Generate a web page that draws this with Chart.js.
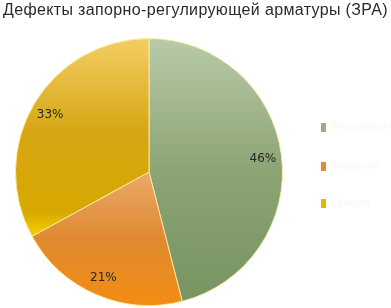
<!DOCTYPE html>
<html>
<head>
<meta charset="utf-8">
<script src="https://cdn.jsdelivr.net/npm/chart.js@4"></script>
<style>
  html, body { margin: 0; padding: 0; background: #fff; }
  #wrap { position: relative; width: 391px; height: 308px; overflow: hidden; }
  #title { position: absolute; left: 3px; top: 0; white-space: nowrap; font-family: "Liberation Sans", Arial, sans-serif; font-size: 16px; line-height: 19px; color: #2a2a2a; }
  #legend { position: absolute; left: 321px; top: 0; font-family: "Liberation Sans", Arial, sans-serif; font-size: 11px; color: #f7f7f7; }
  #legend div { position: absolute; white-space: nowrap; }
  #legend span { display: inline-block; width: 5px; height: 9px; margin-right: 6px; vertical-align: middle; }
</style>
</head>
<body>
<div id="wrap">
  <canvas id="pieChart" width="391" height="308"></canvas>
  <div id="title"></div>
  <div id="legend"></div>
</div>
<script>
const chartTitle = "Дефекты запорно-регулирующей арматуры (ЗРА)";
const categories = ["Негерметичность", "Коррозия", "Прочие"];
const values = [46, 21, 33];

// цвета (верх -> низ градиента)
const gradStops = [
  [[0, "#b8caa9"], [0.5, "#8ca474"], [1, "#769461"]],
  [[0.5, "#eaa96a"], [0.75, "#e0892f"], [1, "#f28d12"]],
  [[0, "#f3ce64"], [0.35, "#d6a614"], [0.65, "#d8a800"], [0.72, "#f0c800"], [1, "#f0c800"]],
];
const legendColors = ["#9aae86", "#e48c34", "#e0b800"];

function sliceGradient(ctx) {
  const chart = ctx.chart;
  const area = chart.chartArea;
  if (!area) return legendColors[ctx.dataIndex];
  const g = chart.ctx.createLinearGradient(0, area.top, 0, area.bottom);
  gradStops[ctx.dataIndex].forEach((s) => g.addColorStop(s[0], s[1]));
  return g;
}

const pctLabels = {
  id: "pctLabels",
  afterDatasetsDraw(chart) {
    const { ctx } = chart;
    const meta = chart.getDatasetMeta(0);
    const total = values.reduce((a, b) => a + b, 0);
    ctx.save();
    ctx.font = "12px 'DejaVu Sans', sans-serif";
    ctx.fillStyle = "#262626";
    ctx.textAlign = "center";
    ctx.textBaseline = "middle";
    meta.data.forEach((arc, i) => {
      const p = arc.getProps(["x", "y", "startAngle", "endAngle", "outerRadius"], true);
      const mid = (p.startAngle + p.endAngle) / 2;
      const r = p.outerRadius * 0.86;
      ctx.fillText(Math.round(values[i] / total * 100) + "%", p.x + Math.cos(mid) * r, p.y + Math.sin(mid) * r + 1);
    });
    ctx.restore();
  },
};

const chart = new Chart(document.getElementById("pieChart"), {
  type: "pie",
  data: {
    labels: categories,
    datasets: [
      {
        data: values,
        backgroundColor: sliceGradient,
        borderColor: "rgba(255,236,170,0.9)",
        borderWidth: 1,
      },
    ],
  },
  options: {
    responsive: false,
    animation: false,
    layout: { padding: { left: 3, right: 96, top: 38, bottom: 2 } },
    plugins: {
      legend: { display: false },
      tooltip: { enabled: false },
    },
  },
  plugins: [pctLabels],
});

// заголовок растягиваем до ширины как в оригинале (~385px)
const titleEl = document.getElementById("title");
titleEl.textContent = chartTitle;
const natural = titleEl.getBoundingClientRect().width;
titleEl.style.letterSpacing = Math.max(0, (385 - natural) / chartTitle.length) + "px";

const legend = document.getElementById("legend");
const legendY = [120, 159, 196];
categories.forEach((c, i) => {
  const item = document.createElement("div");
  item.style.top = legendY[i] + "px";
  item.innerHTML = `<span style="background:${legendColors[i]}"></span>${c}`;
  legend.appendChild(item);
});
</script>
</body>
</html>
